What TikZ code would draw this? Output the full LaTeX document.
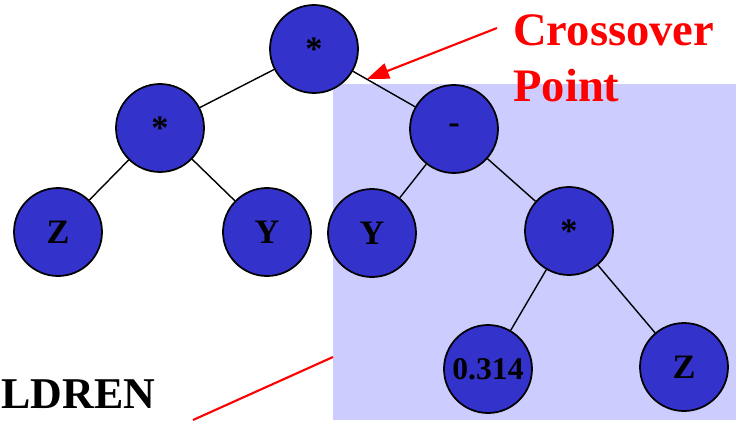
\documentclass[tikz,border=0pt]{standalone}
\usepackage{fontspec}
\setmainfont{Liberation Serif}
\usetikzlibrary{arrows.meta}
\definecolor{nodeBlue}{RGB}{51,51,204}
\definecolor{shadeLilac}{RGB}{204,204,255}
\definecolor{markRed}{RGB}{255,0,0}

\begin{document}
\begin{tikzpicture}[x=0.02cm,y=-0.02cm,line join=round,
  treenode/.style={circle,fill=nodeBlue,draw=black,line width=1pt,
    minimum size=1.76cm,inner sep=0pt,font=\bfseries\fontsize{19.5}{20}\selectfont},
  branch/.style={black,line width=0.8pt},
  redtext/.style={markRed,inner sep=0pt,font=\bfseries\fontsize{26.5}{30}\selectfont}]

% fixed canvas, 741 x 420 px
\path[use as bounding box] (0,0) rectangle (741,420);

% shaded offspring subtree
\fill[shadeLilac] (333,84) rectangle (736,420);

% tree nodes
\node[treenode] (root) at (314,49) {*};
\node[treenode] (lmul) at (160,128) {*};
\node[treenode] (zleft) at (58,232) {Z};
\node[treenode] (yleft) at (267,232) {Y};
\node[treenode] (minus) at (454,129) {-};
\node[treenode] (yright) at (372,233) {Y};
\node[treenode] (rmul) at (569,231) {*};
\node[treenode,font=\bfseries\fontsize{18}{18}\selectfont] (const) at (488,369) {0.314};
\node[treenode] (zright) at (684,367) {Z};

% branches
\draw[branch] (root) -- (lmul);
\draw[branch] (root) -- (minus);
\draw[branch] (lmul) -- (zleft);
\draw[branch] (lmul) -- (yleft);
\draw[branch] (minus) -- (yright);
\draw[branch] (minus) -- (rmul);
\draw[branch] (rmul) -- (const);
\draw[branch] (rmul) -- (zright);

% crossover label and arrow
\node[redtext,anchor=base west] (crossWord) at (513,45) {Crossover};
\node[redtext,anchor=base west] (pointWord) at (513,101) {Point};
\coordinate (arrowTail) at (497,28);
\coordinate (arrowTip) at (367,79);
\draw[markRed,line width=1.2pt,-{Triangle[length=0.44cm,width=0.32cm]}] (arrowTail) -- (arrowTip);

% children label and pointer line
\node[anchor=base west,inner sep=0pt,font=\bfseries\fontsize{25}{28}\selectfont] (childWord) at (1,408) {LDREN};
\coordinate (lineTop) at (333,357);
\coordinate (lineFoot) at (193,420);
\draw[markRed,line width=1.2pt] (lineTop) -- (lineFoot);

\end{tikzpicture}
\end{document}
